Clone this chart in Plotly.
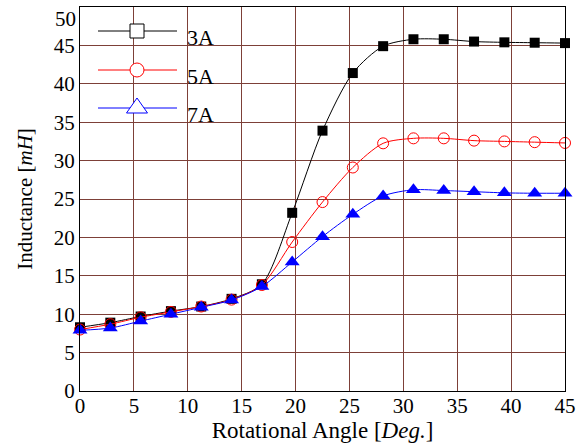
import plotly.graph_objects as go

angle = [0, 2.8125, 5.625, 8.4375, 11.25, 14.0625, 16.875, 19.6875, 22.5,
         25.3125, 28.125, 30.9375, 33.75, 36.5625, 39.375, 42.1875, 45]
L_3A = [8.3, 8.9, 9.7, 10.4, 11.0, 12.0, 13.9, 23.2, 33.9, 41.4, 44.9, 45.8,
        45.8, 45.5, 45.4, 45.35, 45.3]
L_5A = [8.0, 8.7, 9.6, 10.3, 11.0, 11.9, 13.8, 19.4, 24.6, 29.1, 32.25, 32.9,
        32.9, 32.6, 32.5, 32.4, 32.3]
L_7A = [7.9, 8.2, 9.1, 10.0, 10.9, 11.85, 13.6, 16.8, 20.1, 23.0, 25.4, 26.2,
        26.1, 25.95, 25.8, 25.75, 25.75]
labels = ["3A", "5A", "7A"]
colors = ["#000000", "#ff0000", "#0000ff"]
y_ticks = [0, 5, 10, 15, 20, 25, 30, 35, 40, 45]
y_top = 50

W, H = 580, 447
PL, PR, PT, PB = 80, 565, 7, 391   # plot area in page pixels
ML, MT = PL, PT
PW, PH = PR - PL, PB - PT
MR, MB = W - ML - PW, H - MT - PH
FONT = "Liberation Serif"
GRID = "#7d4038"

def px(x):
    return (x - PL) / PW

def py(y):
    return (PB - y) / PH

fig = go.Figure()
series = [L_3A, L_5A, L_7A]
markers = [
    dict(symbol="square", size=10, color="#000000"),
    dict(symbol="circle-open", size=11, color="#ff0000", line=dict(width=1)),
    dict(symbol="triangle-up", size=13, color="#0000ff"),
]
for name, ys, col, mk in zip(labels, series, colors, markers):
    fig.add_trace(go.Scatter(
        x=angle, y=ys, name=name, mode="lines+markers",
        line=dict(color=col, width=1, shape="spline", smoothing=0.8),
        marker=mk, showlegend=False, cliponaxis=False))

# custom legend (layout decoration)
shapes = []
annotations = []
rows = [31, 70, 108]
for i, (name, col, yrow) in enumerate(zip(labels, colors, rows)):
    shapes.append(dict(type="line", xref="paper", yref="paper",
                       x0=px(98), x1=px(177), y0=py(yrow), y1=py(yrow),
                       line=dict(color=col, width=1)))
    annotations.append(dict(text=name, xref="paper", yref="paper",
                            x=px(185), y=py(yrow + 6), xanchor="left",
                            yanchor="middle", showarrow=False,
                            font=dict(family=FONT, size=22, color="#000")))
cx = 137
shapes.append(dict(type="rect", xref="paper", yref="paper",
                   x0=px(cx - 7), x1=px(cx + 7), y0=py(rows[0] - 7), y1=py(rows[0] + 7),
                   line=dict(color="#000", width=1), fillcolor="white"))
shapes.append(dict(type="circle", xref="paper", yref="paper",
                   x0=px(cx - 7), x1=px(cx + 7), y0=py(rows[1] - 7), y1=py(rows[1] + 7),
                   line=dict(color="#ff0000", width=1), fillcolor="white"))
tx = [cx - 10.5, cx, cx + 10.5]
ty = [rows[2] + 5, rows[2] - 10, rows[2] + 5]
path = "M {} {} L {} {} L {} {} Z".format(px(tx[0]), py(ty[0]), px(tx[1]), py(ty[1]),
                                           px(tx[2]), py(ty[2]))
shapes.append(dict(type="path", xref="paper", yref="paper", path=path,
                   line=dict(color="#0000ff", width=1), fillcolor="white"))

# top y tick label placed just below the top edge (as in the reference)
annotations.append(dict(text=str(y_top), xref="paper", yref="y", x=0, y=y_top,
                        xanchor="right", yanchor="top", xshift=-2, yshift=2,
                        showarrow=False,
                        font=dict(family=FONT, size=21, color="#000")))

fig.update_layout(
    width=W, height=H,
    margin=dict(l=ML, r=MR, t=MT, b=MB, pad=0),
    paper_bgcolor="white", plot_bgcolor="white",
    font=dict(family=FONT, size=20, color="#000"),
    shapes=shapes, annotations=annotations,
    xaxis=dict(range=[0, 45], dtick=5, tick0=0, showgrid=True, gridcolor=GRID,
               gridwidth=1.3, showline=True, linecolor="#000", linewidth=1.2,
               mirror=True, zeroline=False, ticks="", ticklen=0,
               ticklabeloverflow="allow", automargin=False,
               ticklabelstandoff=-4,
               tickfont=dict(family=FONT, size=21),
               title=dict(text="Rotational Angle [<i>Deg.</i>]",
                          font=dict(family=FONT, size=23), standoff=0)),
    yaxis=dict(range=[0, y_top], tickmode="array", tickvals=y_ticks,
               showgrid=True, gridcolor=GRID,
               gridwidth=1.3, showline=True, linecolor="#000", linewidth=1.2,
               mirror=True, zeroline=False, ticks="", ticklen=0,
               ticklabeloverflow="allow", automargin=False,
               tickfont=dict(family=FONT, size=21),
               title=dict(text="Inductance [<i>mH</i>]",
                          font=dict(family=FONT, size=21), standoff=15)),
)
fig.write_html("out.html", config={"displayModeBar": False},
               post_script="document.body.style.margin='0';")
